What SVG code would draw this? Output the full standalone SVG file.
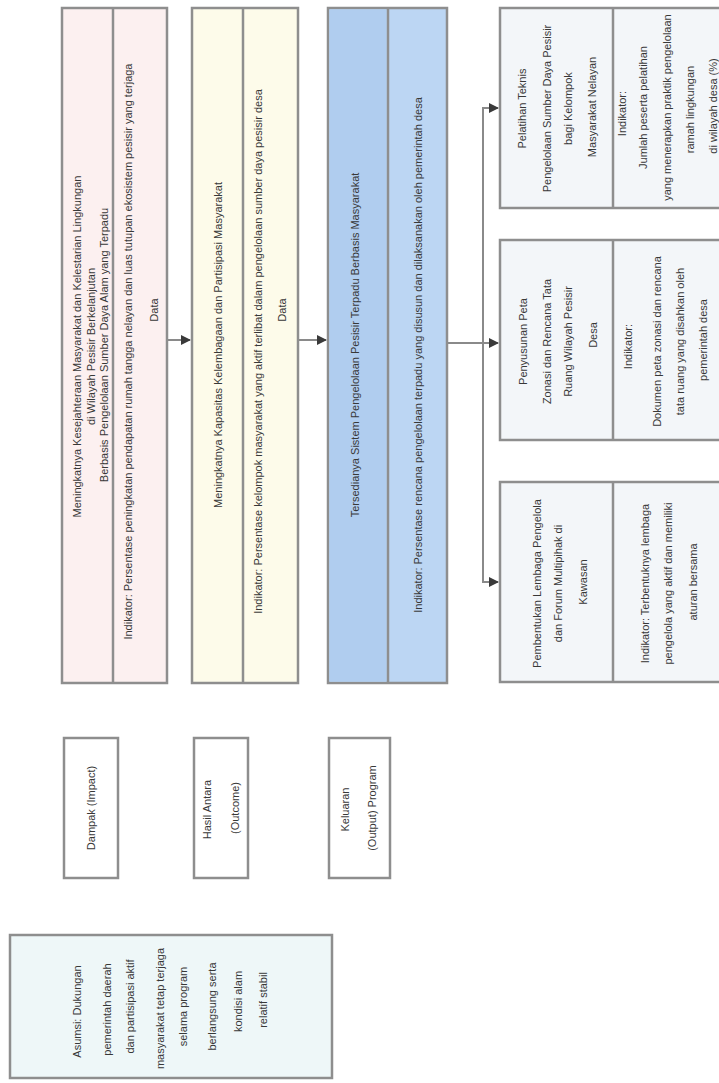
<svg xmlns="http://www.w3.org/2000/svg" width="719" height="1083" viewBox="0 0 719 1083">
<defs>
<style>
.box{stroke:#8e8e8e;stroke-width:2.5}
.div{stroke:#8e8e8e;stroke-width:2.5}
.t{font-family:"Liberation Sans",Arial,sans-serif;font-size:11px;fill:#383838;text-anchor:middle}
.c{fill:none;stroke:#8a8a8a;stroke-width:2}
</style>
<marker id="ah" viewBox="0 0 10 10" refX="9" refY="5" markerWidth="5" markerHeight="5" orient="auto">
<path d="M0,0 L10,5 L0,10 z" fill="#3a3a3a"/>
</marker>
</defs>
<rect width="719" height="1083" fill="#ffffff"/>

<g id="connectors">
<path class="c" d="M167,340 H190" marker-end="url(#ah)"/>
<path class="c" d="M298,340 H326" marker-end="url(#ah)"/>
<path class="c" d="M447,343 H498" marker-end="url(#ah)"/>
<path class="c" d="M483,343 V108 H498" marker-end="url(#ah)"/>
<path class="c" d="M483,343 V582 H498" marker-end="url(#ah)"/>
</g>

<g id="impact">
<rect class="box" x="62" y="8" width="105" height="675" fill="#fcf0f0"/>
<line class="div" x1="113" y1="8" x2="113" y2="683"/>
<text class="t" transform="rotate(-90)">
<tspan x="-345" y="81">Meningkatnya Kesejahteraan Masyarakat dan Kelestarian Lingkungan</tspan>
<tspan x="-345" y="95">di Wilayah Pesisir Berkelanjutan</tspan>
<tspan x="-345" y="108">Berbasis Pengelolaan Sumber Daya Alam yang Terpadu</tspan>
</text>
<text class="t" transform="rotate(-90)">
<tspan x="-350" y="132">Indikator: Persentase peningkatan pendapatan rumah tangga nelayan dan luas tutupan ekosistem pesisir yang terjaga</tspan>
<tspan x="-310" y="158">Data</tspan>
</text>
</g>

<g id="outcome">
<rect class="box" x="192" y="8" width="106" height="675" fill="#fdfbea"/>
<line class="div" x1="243" y1="8" x2="243" y2="683"/>
<text class="t" transform="rotate(-90)"><tspan x="-345" y="222">Meningkatnya Kapasitas Kelembagaan dan Partisipasi Masyarakat</tspan></text>
<text class="t" transform="rotate(-90)">
<tspan x="-350" y="262">Indikator: Persentase kelompok masyarakat yang aktif terlibat dalam pengelolaan sumber daya pesisir desa</tspan>
<tspan x="-310" y="286">Data</tspan>
</text>
</g>

<g id="output">
<rect class="box" x="328" y="8" width="119" height="675" fill="#bcd6f3"/>
<rect x="329.5" y="9.5" width="57" height="672" fill="#b0cdef"/>
<line class="div" x1="388" y1="8" x2="388" y2="683"/>
<text class="t" transform="rotate(-90)"><tspan x="-345" y="359">Tersedianya Sistem Pengelolaan Pesisir Terpadu Berbasis Masyarakat</tspan></text>
<text class="t" transform="rotate(-90)"><tspan x="-355" y="422">Indikator: Persentase rencana pengelolaan terpadu yang disusun dan dilaksanakan oleh pemerintah desa</tspan></text>
</g>

<g id="activity1">
<rect class="box" x="500" y="8" width="240" height="200" fill="#f3f6f9"/>
<line class="div" x1="613" y1="8" x2="613" y2="208"/>
<text class="t" transform="rotate(-90)">
<tspan x="-107" y="526">Pelatihan Teknis</tspan>
<tspan x="-107" y="551">Pengelolaan Sumber Daya Pesisir</tspan>
<tspan x="-107" y="572">bagi Kelompok</tspan>
<tspan x="-107" y="596">Masyarakat Nelayan</tspan>
</text>
<text class="t" transform="rotate(-90)">
<tspan x="-112" y="626">Indikator:</tspan>
<tspan x="-106" y="647">Jumlah peserta pelatihan</tspan>
<tspan x="-106" y="671">yang menerapkan praktik pengelolaan</tspan>
<tspan x="-108" y="694">ramah lingkungan</tspan>
<tspan x="-106" y="717">di wilayah desa (%)</tspan>
</text>
</g>

<g id="activity2">
<rect class="box" x="500" y="240" width="240" height="200" fill="#f3f6f9"/>
<line class="div" x1="613" y1="240" x2="613" y2="440"/>
<text class="t" transform="rotate(-90)">
<tspan x="-340" y="527">Penyusunan Peta</tspan>
<tspan x="-340" y="551">Zonasi dan Rencana Tata</tspan>
<tspan x="-340" y="572">Ruang Wilayah Pesisir</tspan>
<tspan x="-335" y="597">Desa</tspan>
</text>
<text class="t" transform="rotate(-90)">
<tspan x="-345" y="632">Indikator:</tspan>
<tspan x="-340" y="661">Dokumen peta zonasi dan rencana</tspan>
<tspan x="-340" y="684">tata ruang yang disahkan oleh</tspan>
<tspan x="-340" y="707">pemerintah desa</tspan>
</text>
</g>

<g id="activity3">
<rect class="box" x="500" y="482" width="240" height="200" fill="#f3f6f9"/>
<line class="div" x1="613" y1="482" x2="613" y2="682"/>
<text class="t" transform="rotate(-90)">
<tspan x="-582" y="541">Pembentukan Lembaga Pengelola</tspan>
<tspan x="-582" y="562">dan Forum Multipihak di</tspan>
<tspan x="-582" y="587">Kawasan</tspan>
</text>
<text class="t" transform="rotate(-90)">
<tspan x="-582" y="649">Indikator: Terbentuknya lembaga</tspan>
<tspan x="-582" y="672">pengelola yang aktif dan memiliki</tspan>
<tspan x="-582" y="697">aturan bersama</tspan>
</text>
</g>

<g id="label-impact">
<rect class="box" x="64" y="738" width="54" height="140" fill="#ffffff"/>
<text class="t" transform="rotate(-90)"><tspan x="-808" y="95">Dampak (Impact)</tspan></text>
</g>

<g id="label-outcome">
<rect class="box" x="194" y="738" width="54" height="140" fill="#ffffff"/>
<text class="t" transform="rotate(-90)">
<tspan x="-808" y="211">Hasil Antara</tspan>
<tspan x="-808" y="239">(Outcome)</tspan>
</text>
</g>

<g id="label-output">
<rect class="box" x="329" y="738" width="61" height="140" fill="#ffffff"/>
<text class="t" transform="rotate(-90)">
<tspan x="-808" y="349">Keluaran</tspan>
<tspan x="-808" y="376">(Output) Program</tspan>
</text>
</g>

<g id="notes">
<rect class="box" x="10" y="935" width="322" height="143" fill="#eef7f8"/>
<text class="t" transform="rotate(-90)">
<tspan x="-1010" y="81">Asumsi: Dukungan</tspan>
<tspan x="-1008" y="111">pemerintah daerah</tspan>
<tspan x="-1005" y="134">dan partisipasi aktif</tspan>
<tspan x="-1007" y="164">masyarakat tetap terjaga</tspan>
<tspan x="-1005" y="187">selama program</tspan>
<tspan x="-1005" y="216">berlangsung serta</tspan>
<tspan x="-1000" y="242">kondisi alam</tspan>
<tspan x="-1000" y="267">relatif stabil</tspan>
</text>
</g>
</svg>
